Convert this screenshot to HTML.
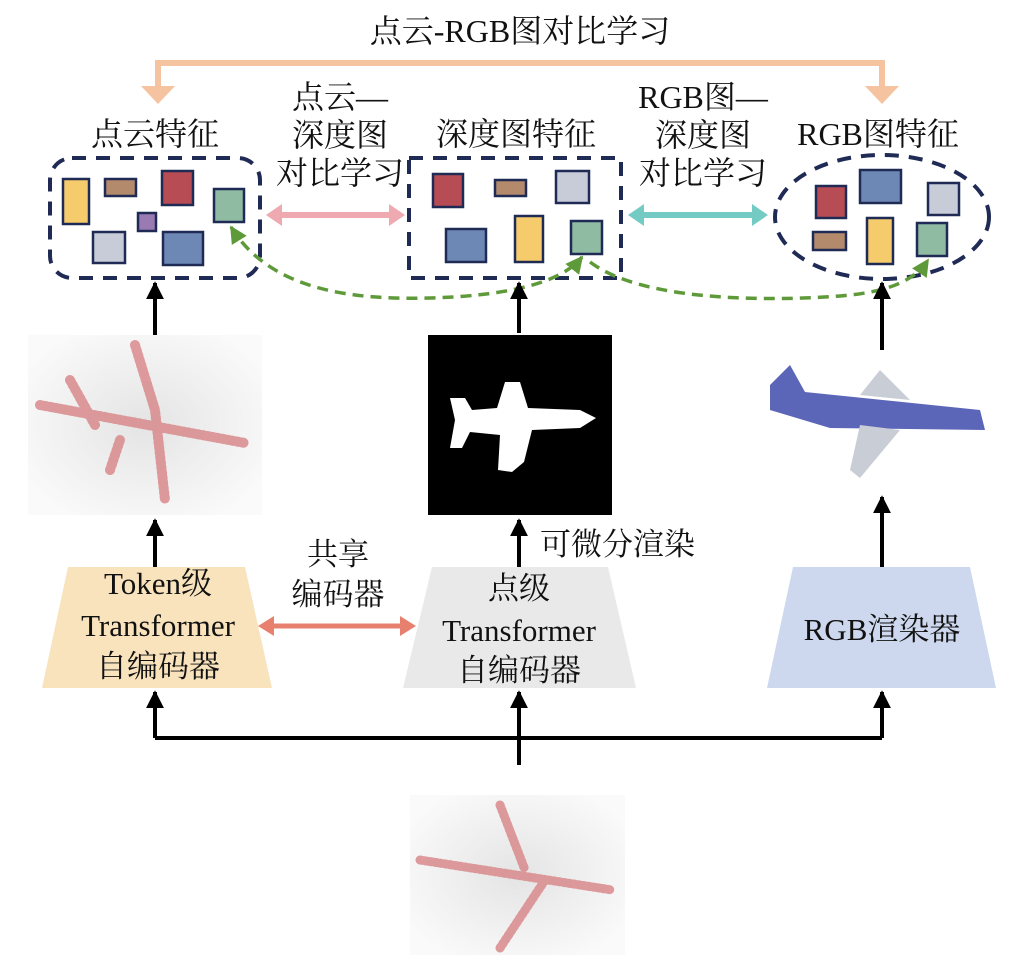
<!DOCTYPE html>
<html><head><meta charset="utf-8"><style>
html,body{margin:0;padding:0;background:#fff;}
svg text{font-family:"Liberation Serif","Noto Serif CJK SC",serif;fill:#111;}
</style></head><body>
<svg width="1023" height="975" viewBox="0 0 1023 975" xmlns="http://www.w3.org/2000/svg">
<defs>
<marker id="ab" viewBox="0 0 10 10" refX="9" refY="5" markerWidth="4.5" markerHeight="4.5" orient="auto"><path d="M0,0 L10,5 L0,10 z" fill="#000"/></marker>
<marker id="ag" viewBox="0 0 10 10" refX="9" refY="5" markerWidth="5" markerHeight="5" orient="auto"><path d="M0,0 L10,5 L0,10 z" fill="#5f9a3a"/></marker>
<marker id="ags" viewBox="0 0 10 10" refX="1" refY="5" markerWidth="5" markerHeight="5" orient="auto"><path d="M10,0 L0,5 L10,10 z" fill="#5f9a3a"/></marker>
<radialGradient id="sh" cx="50%" cy="50%" r="60%"><stop offset="0" stop-color="#e4e4e4"/><stop offset="1" stop-color="#fafafa"/></radialGradient>
</defs>

<text x="520" y="42" font-size="32" text-anchor="middle">点云-RGB图对比学习</text>
<polyline points="158,88 158,63 882,63 882,88" fill="none" stroke="#f5c3a0" stroke-width="6"/>
<path d="M141,86 L175,86 L158,104 z" fill="#f5c3a0"/>
<path d="M865,86 L899,86 L882,104 z" fill="#f5c3a0"/>

<g font-size="32" text-anchor="middle">
<text x="155" y="145">点云特征</text>
<text x="340" y="108">点云—</text>
<text x="340" y="146">深度图</text>
<text x="340" y="184">对比学习</text>
<text x="516" y="145">深度图特征</text>
<text x="703" y="108">RGB图—</text>
<text x="703" y="146">深度图</text>
<text x="703" y="184">对比学习</text>
<text x="878" y="145">RGB图特征</text>
</g>

<g fill="none" stroke="#1f2a55" stroke-width="4" stroke-dasharray="14,10">
<rect x="50" y="158" width="210" height="120" rx="22"/>
<rect x="409" y="158" width="212" height="120"/>
<ellipse cx="882" cy="217" rx="107" ry="62"/>
</g>
<g stroke="#1f2a55" stroke-width="2.5">
<rect x="63" y="179" width="26" height="45" fill="#f5cb6b"/>
<rect x="105" y="179" width="31" height="17" fill="#b48a6c"/>
<rect x="162" y="171" width="31" height="34" fill="#b84c55"/>
<rect x="214" y="189" width="30" height="33" fill="#8fbba3"/>
<rect x="138" y="213" width="18" height="18" fill="#9a7ab3"/>
<rect x="93" y="232" width="32" height="31" fill="#c7ccd8"/>
<rect x="163" y="232" width="40" height="33" fill="#6e88b6"/>

<rect x="433" y="174" width="30" height="33" fill="#b84c55"/>
<rect x="495" y="180" width="31" height="16" fill="#b48a6c"/>
<rect x="556" y="171" width="33" height="32" fill="#c7ccd8"/>
<rect x="446" y="229" width="40" height="33" fill="#6e88b6"/>
<rect x="515" y="216" width="28" height="46" fill="#f5cb6b"/>
<rect x="571" y="221" width="31" height="33" fill="#8fbba3"/>

<rect x="816" y="186" width="30" height="32" fill="#b84c55"/>
<rect x="860" y="170" width="41" height="33" fill="#6e88b6"/>
<rect x="928" y="183" width="31" height="32" fill="#c7ccd8"/>
<rect x="813" y="232" width="33" height="18" fill="#b48a6c"/>
<rect x="867" y="218" width="26" height="46" fill="#f5cb6b"/>
<rect x="917" y="223" width="30" height="33" fill="#8fbba3"/>
</g>

<line x1="278" y1="215" x2="393" y2="215" stroke="#eeaab0" stroke-width="6"/>
<path d="M266,215 L282,204 L282,226 z M405,215 L389,204 L389,226 z" fill="#eeaab0"/>
<line x1="641" y1="215" x2="755" y2="215" stroke="#74cbc4" stroke-width="6"/>
<path d="M628,215 L644,204 L644,226 z M768,215 L752,204 L752,226 z" fill="#74cbc4"/>

<path d="M231,227 C270,290 350,300 430,298 C500,296 560,285 582,257" fill="none" stroke="#5f9a3a" stroke-width="3.5" stroke-dasharray="11,7" marker-start="url(#ags)" marker-end="url(#ag)"/>
<path d="M590,262 C640,300 760,302 840,296 C890,292 915,280 928,260" fill="none" stroke="#5f9a3a" stroke-width="3.5" stroke-dasharray="11,7" marker-end="url(#ag)"/>

<g stroke="#000" stroke-width="4" marker-end="url(#ab)">
<line x1="155" y1="345" x2="155" y2="283"/>
<line x1="519" y1="333" x2="519" y2="283"/>
<line x1="882" y1="350" x2="882" y2="283"/>
<line x1="155" y1="567" x2="155" y2="520"/>
<line x1="519" y1="567" x2="519" y2="520"/>
<line x1="882" y1="567" x2="882" y2="497"/>
<polyline points="155,738 155,692" fill="none"/>
<polyline points="882,738 882,692" fill="none"/>
<line x1="519" y1="765" x2="519" y2="692"/>
</g>
<polyline points="155,738 882,738" fill="none" stroke="#000" stroke-width="4"/>

<rect x="28" y="335" width="234" height="180" fill="url(#sh)"/>
<g fill="none" stroke="#d98a8c" stroke-width="10" stroke-dasharray="2,3" stroke-linecap="round" opacity="0.85">
<path d="M40,405 L245,443"/>
<path d="M135,345 L155,410 L165,500"/>
<path d="M120,440 L110,470"/>
<path d="M70,380 L95,425"/>
</g>
<rect x="428" y="335" width="184" height="180" fill="#000"/>
<path d="M450,398 L465,398 L472,410 L497,408 L505,382 L520,382 L528,408 L580,410 L596,418 L580,428 L532,430 L524,462 L512,472 L498,470 L500,435 L470,432 L462,448 L450,448 L455,420 z" fill="#fff"/>
<path d="M770,385 L790,365 L805,392 L980,410 L985,430 L830,428 L770,410 z" fill="#5c66b8"/>
<path d="M860,395 L880,370 L910,400 z M860,425 L900,430 L860,478 L850,470 z" fill="#c9cdd6"/>

<rect x="410" y="795" width="215" height="160" fill="url(#sh)"/>
<g fill="none" stroke="#d98a8c" stroke-width="9" stroke-dasharray="2,3" stroke-linecap="round" opacity="0.85">
<path d="M420,860 L612,890"/>
<path d="M500,805 L525,870"/>
<path d="M545,880 L500,948"/>
</g>

<text x="540" y="555" font-size="31">可微分渲染</text>

<path d="M68,567 L245,567 L272,688 L42,688 z" fill="#f8e3bd"/>
<path d="M432,567 L608,567 L636,688 L403,688 z" fill="#e9e9ea"/>
<path d="M793,567 L970,567 L996,688 L767,688 z" fill="#cdd8ee"/>
<g font-size="31" text-anchor="middle">
<text x="158" y="594">Token级</text>
<text x="158" y="636">Transformer</text>
<text x="158" y="677">自编码器</text>
<text x="519" y="599">点级</text>
<text x="519" y="641">Transformer</text>
<text x="519" y="681">自编码器</text>
<text x="882" y="640">RGB渲染器</text>
<text x="338" y="565">共享</text>
<text x="338" y="605">编码器</text>
</g>
<line x1="270" y1="626" x2="404" y2="626" stroke="#e8806f" stroke-width="5"/>
<path d="M258,626 L274,616 L274,636 z M416,626 L400,616 L400,636 z" fill="#e8806f"/>
</svg>
</body></html>
